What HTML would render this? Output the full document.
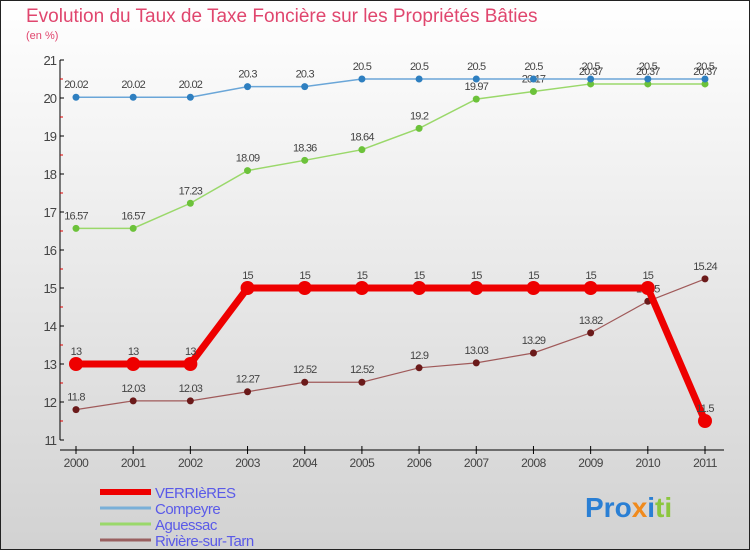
<!DOCTYPE html>
<html><head><meta charset="utf-8"><style>
body{margin:0;width:750px;height:550px;overflow:hidden;font-family:"Liberation Sans",sans-serif}
</style></head><body>
<svg id="c" width="750" height="550" xmlns="http://www.w3.org/2000/svg">
<defs><linearGradient id="bg" x1="0" y1="0" x2="0" y2="1"><stop offset="0" stop-color="#ffffff"/><stop offset="1" stop-color="#d2d2d2"/></linearGradient></defs>
<rect x="0.5" y="0.5" width="749" height="549" fill="url(#bg)" stroke="#222"/>
<text x="26" y="22" font-size="19" fill="#e0466e">Evolution du Taux de Taxe Foncière sur les Propriétés Bâties</text>
<text x="26" y="39" font-size="11" fill="#e0466e">(en %)</text>
<g id="axes"></g><g id="series"></g><g id="legend"></g>
<text x="585" y="517" font-size="28" font-weight="bold"><tspan fill="#2a7fd4">Pro</tspan><tspan fill="#f08a1c">x</tspan><tspan fill="#2a7fd4">i</tspan><tspan fill="#8cc63e">ti</tspan></text>
</svg>
<script>
const years=[2000,2001,2002,2003,2004,2005,2006,2007,2008,2009,2010,2011];
const yTicks=[11,12,13,14,15,16,17,18,19,20,21];
const verrieres=[13,13,13,15,15,15,15,15,15,15,15,11.5];
const compeyre=[20.02,20.02,20.02,20.3,20.3,20.5,20.5,20.5,20.5,20.5,20.5,20.5];
const aguessac=[16.57,16.57,17.23,18.09,18.36,18.64,19.2,19.97,20.17,20.37,20.37,20.37];
const riviere=[11.8,12.03,12.03,12.27,12.52,12.52,12.9,13.03,13.29,13.82,14.65,15.24];
const NS="http://www.w3.org/2000/svg";
const xs=i=>76+i*(705-76)/11;
const ys=v=>440-(v-11)*38;
function mk(p,t,a){const e=document.createElementNS(NS,t);for(const k in a)e.setAttribute(k,a[k]);p.appendChild(e);return e;}
const ax=document.getElementById('axes');
let l=mk(ax,'line',{x1:60,y1:60,x2:60,y2:440,stroke:'#000'});

l=mk(ax,'line',{x1:60,y1:450,x2:724,y2:450,stroke:'#000'});

yTicks.forEach(v=>{
 mk(ax,'line',{x1:60,y1:ys(v),x2:64,y2:ys(v),stroke:'#000'});
 if(v<21)mk(ax,'line',{x1:60,y1:ys(v+0.5),x2:63,y2:ys(v+0.5),stroke:'#d00'});
 const t=mk(ax,'text',{x:56,y:ys(v)+5,'font-size':13,fill:'#444','text-anchor':'end','letter-spacing':'-1'});
 t.textContent=v;
 
});
years.forEach((y,i)=>{
 mk(ax,'line',{x1:xs(i),y1:446,x2:xs(i),y2:454,stroke:'#000'});
 const t=mk(ax,'text',{x:xs(i),y:467,'font-size':12,fill:'#444','text-anchor':'middle','letter-spacing':'-0.5'});
 t.textContent=y;
 
});
const sg=document.getElementById('series');
function draw(vals,name,col,lw,r,dot,fmt){
 const g=mk(sg,'g',{});
 
 const p=mk(g,'polyline',{points:vals.map((v,i)=>xs(i)+','+ys(v)).join(' '),fill:'none',stroke:col,'stroke-width':lw});
 
 vals.forEach((v,i)=>{
  const c=mk(g,'circle',{cx:xs(i),cy:ys(v),r:r,fill:dot});
  
  const t=mk(g,'text',{x:xs(i),y:ys(v)-9,'font-size':11,fill:'#444','text-anchor':'middle','letter-spacing':'-0.8'});
  t.textContent=String(v).replace('.', '.');
  
 });
}
draw(riviere,'riviere-sur-tarn','#a05a5a',1.2,3.5,'#6b1a1a');
draw(aguessac,'aguessac','#9ad86a',1.5,3.5,'#6cc23a');
draw(compeyre,'compeyre','#6aa6d8',1.5,3.5,'#2e7fc0');
draw(verrieres,'verrieres','#ee0000',7,7,'#ee0000');
const lg=document.getElementById('legend');
const items=[['VERRIèRES','#ee0000',6],['Compeyre','#7ab0d8',3],['Aguessac','#9ad86a',3],['Rivière-sur-Tarn','#9a6060',3]];
items.forEach((it,i)=>{
 const y=492+i*16;
 const g=mk(lg,'g',{});
 
 mk(g,'line',{x1:100,y1:y,x2:151,y2:y,stroke:it[1],'stroke-width':it[2]});
 const t=mk(g,'text',{x:155,y:y+6,'font-size':15,fill:'#5a5ae8','letter-spacing':'-0.5'});
 t.textContent=it[0];
});
</script>
</body></html>
